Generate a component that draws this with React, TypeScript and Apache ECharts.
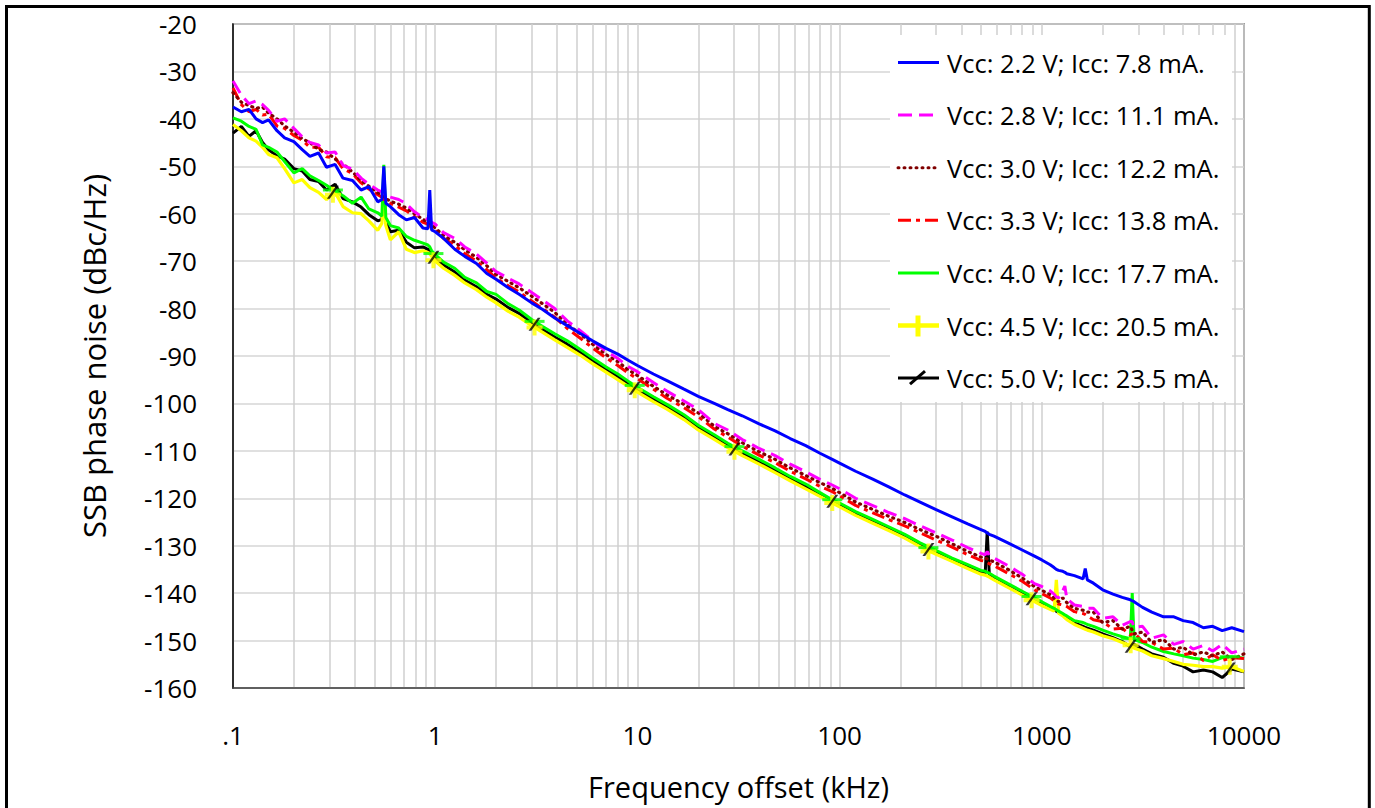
import React, { useEffect, useRef } from "react";
import * as echarts from "echarts";

// Frequency offset grid (kHz), grouped per decade
const FREQ = [
  0.1, 0.11, 0.12, 0.13, 0.14, 0.15, 0.165, 0.18, 0.2, 0.22, 0.24, 0.265, 0.29, 0.32, 0.35, 0.39, 0.43, 0.47,
  0.52, 0.545, 0.557, 0.57, 0.6, 0.66, 0.72, 0.79, 0.87, 0.92, 0.94, 0.96,
  1.0, 1.1, 1.25, 1.4, 1.6, 1.8, 2.0, 2.3, 2.6, 3.0, 3.4, 3.9, 4.5, 5.2, 6.0, 7.0, 8.0, 9.0,
  10, 12, 14, 17, 20, 24, 28, 33, 40, 48, 57, 68, 80, 92,
  100, 120, 145, 175, 210, 250, 300, 360, 430, 500, 525, 537, 550, 580, 680, 800, 920,
  1000, 1100, 1150, 1180, 1210, 1270, 1300, 1330, 1450, 1600, 1640, 1680,
  1800, 2000, 2250, 2500, 2740, 2800, 2860, 3150, 3500, 4000, 4500, 5000, 5600, 6300, 7000, 7800, 8700, 10000,
];

const V22 = [
  -37.5, -38.5, -38.0, -40.0, -40.8, -40.2, -42.5, -44.0, -44.8, -46.5, -47.9, -47.2, -50.2, -49.6, -52.5, -53.0, -55.0, -54.3,
  -57.5, -57.0, -50.0, -57.8, -58.5, -60.2, -61.3, -60.8, -63.0, -63.2, -55.0, -63.4,
  -63.8, -65.2, -67.5, -69.0, -70.5, -72.6, -73.8, -75.6, -77.0, -78.8, -80.2, -82.0, -83.6, -85.2, -86.8, -88.4, -89.6, -90.9,
  -92.0, -93.8, -95.2, -97.0, -98.5, -100.0, -101.3, -102.6, -104.3, -105.8, -107.4, -108.9, -110.5, -111.8,
  -112.6, -114.3, -115.9, -117.6, -119.3, -120.8, -122.4, -123.9, -125.4, -126.6, -127.0, -127.3, -127.6, -128.0, -129.4, -130.9, -132.2,
  -133.0, -134.0, -134.6, -135.0, -135.2, -135.4, -135.6, -135.9, -136.3, -137.0, -134.8, -137.2,
  -137.9, -139.3, -140.2, -140.9, -141.4, -141.6, -141.8, -143.0, -144.0, -145.0, -145.0, -145.8, -146.2, -147.3, -147.0, -147.9, -147.3, -148.1,
];

const V28 = [
  -32.0, -35.0, -36.8, -36.2, -37.0, -38.2, -40.5, -40.0, -42.0, -43.8, -45.0, -45.5, -47.2, -47.0, -49.8, -50.6, -52.5, -53.8,
  -55.0, -55.4, -55.8, -56.0, -56.5, -57.0, -57.9, -59.6, -60.8, -61.2, -61.6, -61.8,
  -62.2, -64.0, -65.2, -67.0, -68.5, -70.4, -72.2, -73.6, -74.8, -76.6, -78.2, -80.0, -82.6, -84.6, -86.8, -89.0, -90.5, -92.2,
  -93.3, -95.6, -97.4, -99.5, -101.3, -104.2, -105.6, -107.6, -109.5, -111.0, -112.8, -114.4, -116.0, -117.2,
  -118.0, -120.0, -121.5, -123.0, -124.3, -125.8, -127.3, -128.8, -130.4, -131.6, -131.9, -131.2, -132.0, -132.6, -134.2, -136.0, -138.0,
  -138.6, -139.5, -140.2, -140.8, -141.0, -139.5, -138.5, -141.2, -142.5, -142.8, -143.0, -143.2,
  -143.2, -145.3, -145.0, -146.8, -146.0, -146.0, -147.2, -147.0, -149.5, -148.8, -150.8, -150.2, -151.8, -151.0, -152.2, -150.8, -152.6, -151.8,
];

const V30 = [
  -34.5, -36.5, -37.2, -37.8, -37.5, -38.8, -40.0, -41.5, -42.8, -44.2, -45.0, -46.5, -47.0, -48.5, -49.5, -51.2, -53.0, -54.2,
  -55.6, -56.0, -56.4, -56.8, -57.4, -58.0, -58.8, -60.0, -61.2, -61.8, -62.0, -62.4,
  -63.0, -64.6, -66.0, -67.6, -69.2, -71.0, -72.8, -74.3, -75.6, -77.4, -79.0, -80.8, -83.3, -85.3, -87.5, -89.7, -91.2, -92.9,
  -94.1, -96.4, -98.2, -100.2, -102.0, -104.8, -106.4, -108.3, -110.2, -111.8, -113.6, -115.2, -116.7, -117.9,
  -118.8, -120.8, -122.3, -123.8, -125.1, -126.6, -128.0, -129.6, -131.2, -132.4, -132.6, -132.8, -133.0, -133.4, -135.0, -136.8, -138.6,
  -139.4, -140.3, -141.0, -141.5, -141.8, -141.0, -141.5, -142.0, -143.2, -143.6, -143.8, -144.0,
  -144.0, -146.2, -145.8, -147.6, -147.0, -147.8, -148.6, -148.2, -150.4, -149.8, -151.8, -151.4, -153.0, -152.4, -153.2, -152.4, -154.0, -152.8,
];

const V33 = [
  -33.5, -37.0, -38.5, -38.0, -39.2, -39.0, -41.5, -42.0, -43.5, -44.5, -46.0, -46.0, -48.0, -48.2, -50.5, -51.5, -53.5, -54.8,
  -56.0, -56.5, -57.0, -57.2, -57.8, -58.6, -59.4, -60.6, -61.8, -62.2, -62.6, -62.9,
  -63.5, -65.2, -66.7, -68.4, -70.0, -71.8, -73.6, -75.2, -76.5, -78.4, -80.0, -81.8, -84.2, -86.2, -88.3, -90.4, -92.0, -93.6,
  -94.8, -97.0, -98.9, -100.9, -102.8, -105.4, -107.1, -109.0, -110.9, -112.5, -114.3, -115.9, -117.5, -118.6,
  -119.5, -121.5, -123.0, -124.5, -125.8, -127.3, -128.8, -130.3, -131.9, -133.1, -133.3, -133.6, -133.8, -134.2, -135.8, -137.5, -139.3,
  -140.1, -141.0, -141.6, -142.0, -142.3, -142.5, -142.6, -142.8, -143.9, -144.3, -144.5, -144.8,
  -145.6, -146.0, -147.6, -147.4, -148.8, -148.6, -148.4, -150.2, -150.4, -151.8, -151.6, -153.0, -152.6, -154.2, -153.0, -154.2, -153.6, -153.8,
];

const V40 = [
  -39.8, -40.5, -41.6, -42.2, -45.5, -46.0, -47.0, -49.0, -51.4, -50.5, -52.0, -53.0, -54.0, -55.2, -56.2, -57.8, -56.5, -59.0,
  -59.8, -60.5, -49.7, -60.8, -62.5, -63.0, -64.8, -65.6, -66.2, -66.6, -67.0, -67.8,
  -68.6, -70.2, -71.5, -73.4, -74.6, -76.4, -77.0, -79.0, -80.3, -82.3, -83.8, -85.3, -86.8, -88.6, -90.4, -92.3, -93.8, -95.3,
  -96.6, -98.6, -100.2, -102.4, -104.6, -106.6, -108.4, -110.0, -111.8, -113.6, -115.4, -117.0, -118.8, -120.3,
  -121.0, -122.8, -124.4, -126.0, -127.6, -129.4, -131.0, -132.6, -134.0, -135.2, -135.4, -135.6, -135.8, -136.4, -138.0, -139.6, -141.0,
  -141.8, -142.8, -143.2, -143.5, -143.8, -144.3, -144.6, -144.8, -145.8, -146.2, -146.4, -146.6,
  -147.0, -147.8, -148.6, -149.2, -149.6, -140.0, -149.8, -150.4, -151.4, -152.3, -152.8, -153.2, -153.7, -154.0, -154.4, -153.6, -153.4, -153.7,
];

const V45 = [
  -41.2, -42.5, -44.0, -44.7, -46.0, -47.5, -48.2, -50.5, -53.5, -52.8, -54.5, -55.5, -57.0, -55.5, -58.5, -59.8, -60.0, -61.5,
  -63.5, -62.0, -56.0, -62.5, -65.5, -63.8, -67.5, -68.2, -67.8, -68.2, -68.4, -69.0,
  -70.0, -71.5, -73.0, -74.6, -76.0, -77.6, -78.8, -80.6, -81.8, -83.6, -85.0, -86.6, -88.2, -89.8, -91.6, -93.4, -95.0, -96.4,
  -97.6, -99.6, -101.2, -103.4, -105.6, -107.6, -109.3, -111.0, -112.8, -114.6, -116.3, -118.0, -119.6, -121.0,
  -121.8, -123.6, -125.2, -126.8, -128.4, -130.2, -131.8, -133.3, -134.8, -136.0, -136.2, -136.4, -136.6, -137.2, -138.8, -140.4, -141.8,
  -142.6, -143.4, -143.8, -137.2, -144.2, -144.8, -145.2, -145.6, -146.6, -147.4, -147.6, -147.8,
  -148.2, -149.0, -149.6, -150.4, -151.0, -151.4, -151.6, -152.2, -153.2, -153.8, -154.4, -155.0, -155.2, -155.5, -155.5, -155.8, -155.5, -156.5,
];

const V50 = [
  -43.0, -41.6, -43.7, -42.5, -45.0, -46.5, -47.8, -48.5, -50.5, -51.0, -52.8, -53.2, -55.0, -53.8, -56.8, -57.5, -58.6, -60.2,
  -61.5, -61.2, -58.0, -61.8, -63.8, -63.5, -66.0, -67.2, -67.0, -67.5, -67.8, -68.4,
  -69.4, -70.8, -72.3, -74.0, -75.4, -77.0, -78.0, -79.8, -81.0, -83.0, -84.4, -86.0, -87.5, -89.2, -91.0, -92.8, -94.4, -95.8,
  -97.1, -99.1, -100.7, -102.9, -105.1, -107.1, -108.8, -110.5, -112.3, -114.1, -115.9, -117.5, -119.2, -120.6,
  -121.4, -123.2, -124.8, -126.4, -128.0, -129.8, -131.4, -133.0, -134.4, -135.6, -135.8, -127.0, -136.0, -136.8, -138.4, -140.0, -141.5,
  -142.2, -143.1, -143.5, -143.8, -144.1, -144.6, -145.0, -145.3, -146.3, -147.0, -147.2, -147.4,
  -147.8, -148.6, -149.4, -150.2, -151.3, -151.0, -150.8, -151.8, -152.8, -153.5, -154.8, -155.4, -156.6, -156.2, -156.6, -157.8, -156.0, -156.6,
];

// Marker positions (every ~half decade) and marker values
const MARKER_FREQ = [0.312, 0.98, 3.1, 9.7, 30.2, 92, 275, 890, 2750, 8500];
const MARK_40 = [-55.0, -68.4, -82.7, -96.2, -109.1, -120.3, -130.4, -140.7, -149.6, -153.4];
const MARK_45 = [-56.0, -69.8, -84.0, -97.2, -110.2, -121.0, -131.2, -141.5, -151.0, -155.5];
const MARK_50 = [-55.5, -69.2, -83.3, -96.8, -109.6, -120.6, -130.8, -141.2, -151.2, -156.0];

const NAMES = [
  "Vcc: 2.2 V; Icc: 7.8 mA.",
  "Vcc: 2.8 V; Icc: 11.1 mA.",
  "Vcc: 3.0 V; Icc: 12.2 mA.",
  "Vcc: 3.3 V; Icc: 13.8 mA.",
  "Vcc: 4.0 V; Icc: 17.7 mA.",
  "Vcc: 4.5 V; Icc: 20.5 mA.",
  "Vcc: 5.0 V; Icc: 23.5 mA.",
];

const X_TICK_LABELS = [".1", "1", "10", "100", "1000", "10000"];
const X_MIN = 0.1;
const X_MAX = 10000;
const Y_MIN = -160;
const Y_MAX = -20;
const Y_STEP = 10;
const MINOR_MULTIPLIERS = [2, 3, 4, 5, 6, 7, 8, 9];

const FONT = "'Open Sans', 'Noto Sans', sans-serif";

const STYLES = [
  { color: "#0000ff", dash: "solid" as any, cap: "butt", width: 3 },
  { color: "#ff00ff", dash: [14, 7], cap: "butt", width: 3 },
  { color: "#800000", dash: [1, 5], cap: "round", width: 3.2 },
  { color: "#ff0000", dash: [13, 5, 4, 5], cap: "butt", width: 3 },
  { color: "#00ff00", dash: "solid", cap: "butt", width: 3 },
  { color: "#ffff00", dash: "solid", cap: "butt", width: 3.2 },
  { color: "#000000", dash: "solid", cap: "butt", width: 3 },
];
const VALUES = [V22, V28, V30, V33, V40, V45, V50];

const PLUS = "path://M6,0H10V6H16V10H10V16H6V10H0V6H6Z";
const SLASH = "path://M0,14L10,0H13L3,14Z";
const DASH = "path://M0,0H20V3H0Z";

function pairs(xs: number[], ys: number[]) {
  const n = Math.min(xs.length, ys.length);
  const out: number[][] = [];
  for (let i = 0; i < n; i++) out.push([xs[i], ys[i]]);
  return out;
}

export default function App() {
  const ref = useRef<HTMLDivElement>(null);
  useEffect(() => {
    const chart = echarts.init(ref.current!, null, { renderer: "svg" });

    const minor: number[] = [];
    for (let e = -1; e < 4; e++) for (const m of MINOR_MULTIPLIERS) minor.push(m * Math.pow(10, e));

    // draw order bottom->top: 5.0V ... 2.2V
    const order = [6, 5, 4, 3, 2, 1, 0];
    const lineSeries = order.map((i) => ({
      type: "line",
      name: NAMES[i],
      data: pairs(FREQ, VALUES[i]),
      showSymbol: false,
      symbol: "none",
      silent: true,
      z: 2,
      lineStyle: {
        color: STYLES[i].color,
        width: STYLES[i].width,
        type: STYLES[i].dash,
        cap: STYLES[i].cap,
      },
    }));

    const markerSeries = [
      { name: "m40", vals: MARK_40, symbol: DASH, size: [20, 3], color: "#00ff00" },
      { name: "m45", vals: MARK_45, symbol: PLUS, size: [16, 16], color: "#ffff00" },
      { name: "m50", vals: MARK_50, symbol: SLASH, size: [12, 13], color: "#000000" },
    ].map((m) => ({
      type: "scatter",
      name: m.name,
      data: pairs(MARKER_FREQ, m.vals),
      symbol: m.symbol,
      symbolSize: m.size,
      silent: true,
      z: 3,
      itemStyle: { color: m.color },
    }));

    const gridSeries = {
      type: "line",
      name: "minor-grid",
      data: [],
      silent: true,
      z: 0,
      markLine: {
        silent: true,
        z: 0,
        symbol: ["none", "none"],
        label: { show: false },
        lineStyle: { color: "#cfcfcf", width: 1.5, type: "solid" },
        data: minor.map((v) => ({ xAxis: v })),
      },
    };

    // Legend drawn as graphic
    const LX = 898;
    const legendChildren: any[] = [
      {
        type: "rect",
        shape: { x: 890, y: 35, width: 342, height: 367 },
        style: { fill: "#ffffff" },
        z: 50,
      },
    ];
    NAMES.forEach((name, i) => {
      const cy = 62.5 + i * 52.6;
      const st = STYLES[i];
      legendChildren.push({
        type: "line",
        shape: { x1: LX, y1: cy, x2: LX + 41, y2: cy },
        style: {
          stroke: st.color,
          lineWidth: i === 5 ? 4.5 : 3,
          lineDash: Array.isArray(st.dash) ? st.dash : null,
          lineCap: st.cap,
        },
        z: 51,
      });
      if (i === 5) {
        legendChildren.push({
          type: "line",
          shape: { x1: LX + 20, y1: cy - 10, x2: LX + 20, y2: cy + 11 },
          style: { stroke: st.color, lineWidth: 5 },
          z: 51,
        });
      }
      if (i === 6) {
        legendChildren.push({
          type: "line",
          shape: { x1: LX + 12, y1: cy + 6, x2: LX + 27, y2: cy - 7 },
          style: { stroke: st.color, lineWidth: 3 },
          z: 51,
        });
      }
      legendChildren.push({
        type: "text",
        x: 947,
        y: cy,
        style: {
          text: name,
          fill: "#000",
          fontSize: 25.5,
          fontFamily: FONT,
          align: "left",
          verticalAlign: "middle",
        },
        z: 52,
      });
    });

    chart.setOption({
      animation: false,
      backgroundColor: "#ffffff",
      textStyle: { fontFamily: FONT },
      grid: {
        left: 233,
        right: 131,
        top: 24,
        bottom: 120,
        show: true,
        borderColor: "#505050",
        borderWidth: 1.5,
        containLabel: false,
      },
      xAxis: {
        type: "log",
        logBase: 10,
        min: X_MIN,
        max: X_MAX,
        name: "Frequency offset (kHz)",
        nameLocation: "middle",
        nameGap: 84,
        nameTextStyle: { fontSize: 29, color: "#000", fontFamily: FONT },
        axisLine: { show: true, onZero: false, lineStyle: { color: "#404040", width: 1.5 } },
        axisTick: { show: false },
        axisLabel: {
          fontSize: 26,
          color: "#000",
          margin: 34,
          fontFamily: FONT,
          formatter: (v: number) => X_TICK_LABELS[Math.round(Math.log10(v)) + 1] ?? String(v),
        },
        splitLine: { show: true, lineStyle: { color: "#cfcfcf", width: 1.5 } },
      },
      yAxis: {
        type: "value",
        min: Y_MIN,
        max: Y_MAX,
        interval: Y_STEP,
        name: "SSB phase noise (dBc/Hz)",
        nameLocation: "middle",
        nameGap: 124,
        nameTextStyle: { fontSize: 31, color: "#000", fontFamily: FONT },
        axisLine: { show: true, lineStyle: { color: "#000", width: 1.5 } },
        axisTick: { show: false },
        axisLabel: { fontSize: 26, color: "#000", margin: 36, fontFamily: FONT },
        splitLine: { show: true, lineStyle: { color: "#d6d6d6", width: 1.5 } },
      },
      graphic: [
        {
          type: "rect",
          shape: { x: 6.5, y: 6.5, width: 1362.8, height: 900 },
          style: { fill: "none", stroke: "#000", lineWidth: 3 },
          z: 100,
          silent: true,
        },
        { type: "group", children: legendChildren, z: 50 },
      ],
      series: [gridSeries, ...lineSeries, ...markerSeries],
    } as any);

    return () => chart.dispose();
  }, []);

  return (
    <div
      ref={ref}
      style={{ position: "fixed", left: 0, top: 0, width: 1375, height: 808, background: "#fff" }}
    />
  );
}
